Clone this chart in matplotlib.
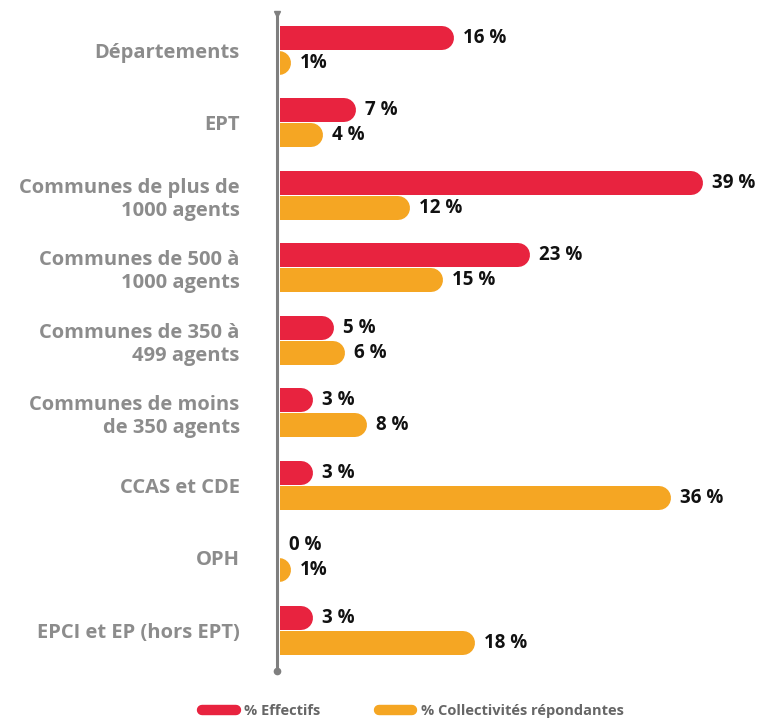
import matplotlib.pyplot as plt
from matplotlib.lines import Line2D
import numpy as np

# categories and values (percent)
categories = [
    "Départements",
    "EPT",
    "Communes de plus de\n1000 agents",
    "Communes de 500 à\n1000 agents",
    "Communes de 350 à\n499 agents",
    "Communes de moins\nde 350 agents",
    "CCAS et CDE",
    "OPH",
    "EPCI et EP (hors EPT)",
]
effectifs = [16, 7, 39, 23, 5, 3, 3, 0, 3]
collectivites = [1, 4, 12, 15, 6, 8, 36, 1, 18]
series_names = ["% Effectifs", "% Collectivités répondantes"]

RED = "#E8233F"
ORANGE = "#F5A623"
GREY_TXT = "#8C8C8C"
GREY_AXIS = "#7F7F7F"

plt.rcParams['font.family'] = ['Open Sans', 'DejaVu Sans']

W, H, DPI = 761, 719, 100
fig = plt.figure(figsize=(W / DPI, H / DPI), dpi=DPI)

# axes placed in pixel terms
ax_left, ax_right = 280, 761
ax_top, ax_bottom = 14, 671
ax = fig.add_axes([ax_left / W, 1 - ax_bottom / H,
                   (ax_right - ax_left) / W, (ax_bottom - ax_top) / H])

px_per_unit = 10.85
xmax = (ax_right - ax_left) / px_per_unit
ax.set_xlim(0, xmax)
ax.set_ylim(8.56, -0.50)

bar_px = 24
r = (bar_px / 2) / px_per_unit
lw = bar_px * 72 / DPI
off = 12.5 / 72.5

y = np.arange(len(categories))
for vals, color, dy in [(effectifs, RED, -off), (collectivites, ORANGE, off)]:
    for yi, v in zip(y, vals):
        ax.plot([-r, v - r], [yi + dy, yi + dy], color=color, lw=lw,
                solid_capstyle='round')
        label = f"{v}%" if v == 1 else f"{v} %"
        ax.annotate(label, xy=(v, yi + dy),
                    xytext=(9, 0), textcoords='offset pixels',
                    ha='left', va='center', fontsize=13.5,
                    fontweight='bold', color='#111111')

# axis line with dots at both ends
ax.plot([-0.25, -0.25], [-0.5, 8.56], color=GREY_AXIS, lw=2.2, clip_on=False,
        marker='o', markersize=4.5, markevery=[1])
ax.plot([-0.25], [-0.5], color=GREY_AXIS, marker='v', markersize=4, clip_on=False)

ax.set_yticks(y)
ax.set_yticklabels(categories, fontsize=14.5, fontweight='bold', color=GREY_TXT,
                   linespacing=1.2)
ax.tick_params(axis='y', length=0, pad=29)
ax.tick_params(axis='x', bottom=False, labelbottom=False)
for s in ax.spines.values():
    s.set_visible(False)

handles = [Line2D([0], [0], color=RED, lw=7.5, solid_capstyle='round'),
           Line2D([0], [0], color=ORANGE, lw=7.5, solid_capstyle='round')]
fig.legend(handles, series_names, loc='center', bbox_to_anchor=(413 / W, 1 - 711 / H),
           ncol=2, frameon=False, handlelength=2.3, handletextpad=0.6,
           columnspacing=4.0, prop={'size': 10.5, 'weight': 'bold'},
           labelcolor='#666666')

fig.savefig('out.png', dpi=DPI)
